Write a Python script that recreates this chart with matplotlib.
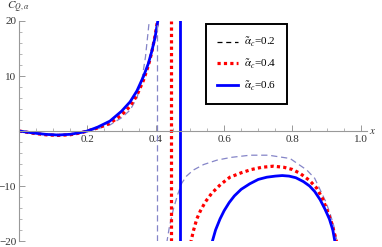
import matplotlib
matplotlib.use("Agg")
import matplotlib.pyplot as plt
from matplotlib.lines import Line2D
from matplotlib.ticker import MultipleLocator

plt.rcParams['font.family'] = ['Liberation Serif', 'DejaVu Serif']
plt.rcParams['mathtext.fontset'] = 'stix'

# values, branch left of the pole and right of it
x_left = [0.0, 0.04, 0.08, 0.115, 0.15, 0.183, 0.2, 0.23, 0.266, 0.30, 0.325, 0.345, 0.364, 0.378, 0.388, 0.398, 0.406]
c_left_06 = [0.0, -0.35, -0.62, -0.73, -0.6, -0.25, 0.0, 0.7, 1.8, 3.6, 5.3, 7.3, 9.9, 12.2, 14.4, 17.0, 20.0]
c_left_04 = [0.0, -0.4, -0.7, -0.8, -0.68, -0.3, 0.0, 0.55, 1.4, 2.9, 4.5, 6.5, 9.2, 11.8, 14.2, 17.3, 20.3]
x_left_02 = [0.0, 0.04, 0.08, 0.115, 0.15, 0.183, 0.2, 0.23, 0.266, 0.30, 0.325, 0.345, 0.36, 0.37, 0.381]
c_left_02 = [0.0, -0.3, -0.55, -0.65, -0.55, -0.25, 0.0, 0.4, 1.1, 2.4, 3.8, 6.0, 9.5, 13.5, 20.0]

x_right_02 = [0.432, 0.44, 0.452, 0.465, 0.476, 0.49, 0.51, 0.54, 0.579, 0.62, 0.676, 0.73, 0.793, 0.842, 0.865, 0.881, 0.897, 0.91, 0.921, 0.93]
c_right_02 = [-20.4, -17.4, -14.1, -11.4, -9.5, -8.2, -7.1, -6.1, -5.3, -4.8, -4.4, -4.4, -5.0, -7.1, -8.6, -10.7, -12.8, -15.0, -17.3, -20.0]
x_right_04 = [0.502, 0.51, 0.52, 0.53, 0.545, 0.564, 0.59, 0.617, 0.65, 0.68, 0.71, 0.744, 0.775, 0.80, 0.822, 0.85, 0.871, 0.888, 0.90, 0.915, 0.93]
c_right_04 = [-20.4, -18.2, -16.0, -14.6, -12.9, -11.3, -9.7, -8.4, -7.6, -7.0, -6.6, -6.4, -6.6, -7.0, -7.7, -9.0, -10.4, -12.3, -14.2, -16.8, -20.4]
x_right_06 = [0.564, 0.575, 0.588, 0.60, 0.615, 0.63, 0.65, 0.675, 0.70, 0.725, 0.75, 0.77, 0.79, 0.81, 0.832, 0.85, 0.865, 0.881, 0.895, 0.908, 0.918, 0.925]
c_right_06 = [-20.4, -18.0, -16.0, -14.5, -13.0, -11.8, -10.6, -9.6, -8.8, -8.4, -8.2, -8.1, -8.2, -8.5, -9.2, -10.0, -11.0, -12.5, -14.2, -16.0, -18.0, -20.4]

poles = [0.403, 0.445, 0.472]
labels = [r'$\tilde{\alpha}_c$=0.2', r'$\tilde{\alpha}_c$=0.4', r'$\tilde{\alpha}_c$=0.6']

fig = plt.figure(figsize=(3.82, 2.47), dpi=100)
ax = fig.add_axes([19/382, 6/247, 348/382, 220/247])

c02 = '#8585c8'
ax.plot(x_left_02, c_left_02, color=c02, lw=0.9, dashes=(5, 3))
ax.plot(x_right_02, c_right_02, color=c02, lw=0.9, dashes=(5, 3))
ax.plot(x_left, c_left_04, color='red', lw=2.3, dashes=(1, 1))
ax.plot(x_right_04, c_right_04, color='red', lw=2.3, dashes=(1, 1))
ax.plot(x_left, c_left_06, color='blue', lw=2.0)
ax.plot(x_right_06, c_right_06, color='blue', lw=2.0)

ax.axvline(poles[0], color=c02, lw=0.9, dashes=(5, 3))
ax.axvline(poles[1], color='red', lw=2.3, dashes=(1, 1))
ax.axvline(poles[2], color='blue', lw=2.0)

ax.set_xlim(0, 1.018)
ax.set_ylim(-20, 20)

for s in ['top', 'right']:
    ax.spines[s].set_visible(False)
ax.spines['left'].set_position(('data', 0))
ax.spines['bottom'].set_position(('data', 0))
for s in ['left', 'bottom']:
    ax.spines[s].set_color('#999999')
    ax.spines[s].set_linewidth(0.8)

ax.xaxis.set_minor_locator(MultipleLocator(0.05))
ax.yaxis.set_minor_locator(MultipleLocator(2))
ax.set_xticks([0.2, 0.4, 0.6, 0.8, 1.0])
ax.set_xticklabels(['0.2', '0.4', '0.6', '0.8', '1.0'])
ax.set_yticks([-20, -10, 10, 20])
ax.set_yticklabels(['\u221220', '\u221210', '10', '20'])
ax.tick_params(which='both', direction='in', colors='#999999', labelcolor='#333333', labelsize=8)
ax.tick_params(which='major', length=4, width=0.7)
ax.tick_params(which='minor', length=2, width=0.5)
ax.tick_params(axis='x', pad=3)
ax.tick_params(axis='y', pad=2)

ax.text(1.025, 0, r'$x$', fontsize=8, va='center', ha='left', color='#333333', clip_on=False)
ax.text(-0.003, 22.4, r'$C_{Q,\alpha}$', fontsize=8, va='center', ha='center', color='#333333', clip_on=False)

handles = [Line2D([], [], color='black', lw=0.9, dashes=(4, 3)),
           Line2D([], [], color='red', lw=2.3, dashes=(1, 1)),
           Line2D([], [], color='blue', lw=2.0)]
leg = ax.legend(handles, labels, loc='upper left', bbox_to_anchor=(0.536, 0.985),
                borderaxespad=0, fontsize=8, fancybox=False, framealpha=1, edgecolor='black',
                handlelength=1.9, labelspacing=0.75, borderpad=1.0, handletextpad=0.55)
leg.get_frame().set_linewidth(1.4)

fig.savefig('out.png', dpi=100)
